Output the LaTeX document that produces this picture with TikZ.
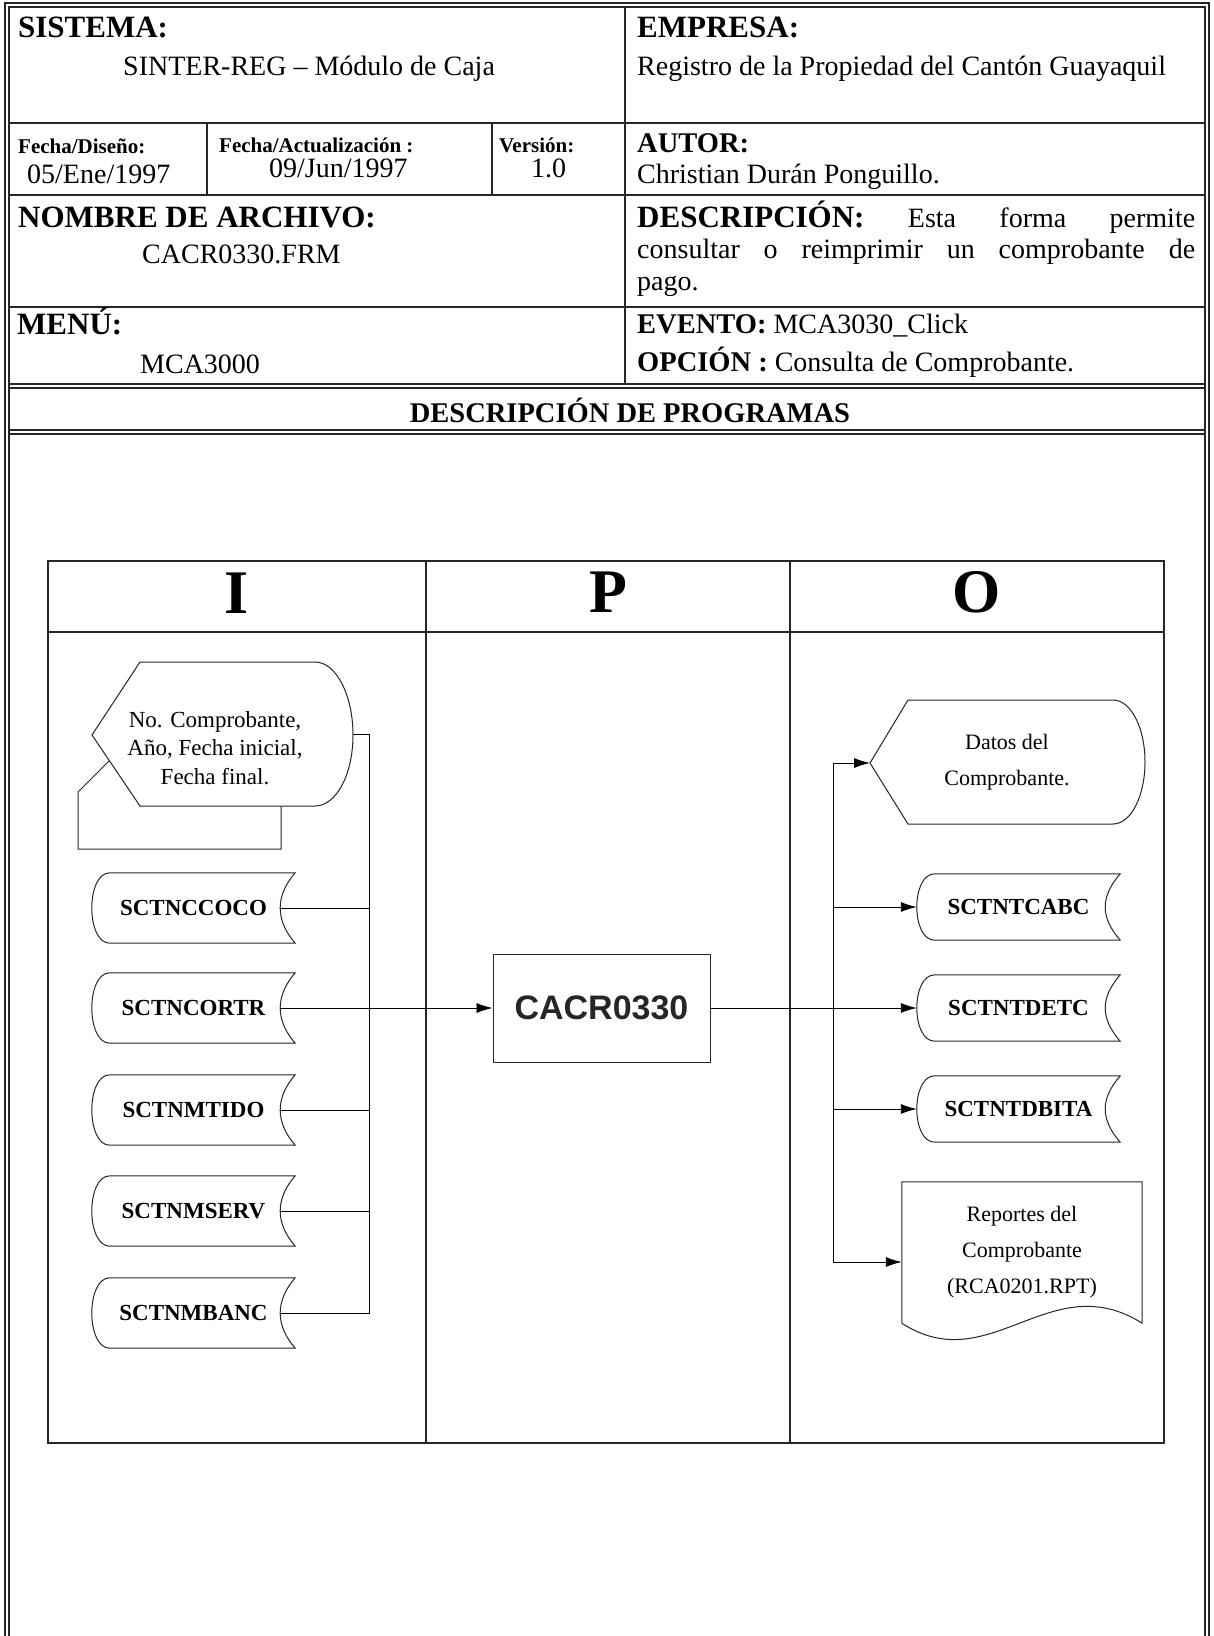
\documentclass[tikz,border=0pt]{standalone}
\usepackage{fontspec}
\setmainfont{Liberation Serif}
\newfontfamily\arialfont{Liberation Sans}
\usetikzlibrary{arrows.meta,calc}
\newcommand\szHead{\fontsize{31}{36}\selectfont}
\newcommand\szLbl{\fontsize{28.5}{34}\selectfont}
\newcommand\szBody{\fontsize{28}{33}\selectfont}
\newcommand\szSmall{\fontsize{21}{25}\selectfont}
\newcommand\szIn{\fontsize{23}{28.5}\selectfont}
\newcommand\szDB{\fontsize{23}{27}\selectfont}
\newcommand\szOut{\fontsize{22}{36}\selectfont}
\newcommand\szIPO{\fontsize{62}{70}\selectfont}
\newcommand\szCacr{\fontsize{34}{40}\selectfont}
\newcommand\dbshape[1]{%
  \draw[shp] ($(#1.north west)+(18,0)$) -- (#1.north east)
    .. controls ($(#1.north east)+(-20,23)$) and ($(#1.south east)+(-20,-23)$) .. (#1.south east)
    -- ($(#1.south west)+(18,0)$)
    .. controls ($(#1.south west)+(-6,0)$) and ($(#1.north west)+(-6,0)$) .. ($(#1.north west)+(18,0)$) -- cycle;}
\begin{document}
\begin{tikzpicture}[x=1pt,y=-1pt,
  frame/.style={line width=1.2pt,black!85},
  ipo/.style={line width=1.1pt,black!85},
  shp/.style={line width=1pt,black!85},
  conn/.style={line width=0.9pt,black},
  arr/.style={conn,-{Latex[length=16pt,width=10pt]}},
  hdr/.style={inner sep=0pt,anchor=base west},
  dbin/.style={minimum width=203pt,minimum height=70pt,inner sep=0pt,font=\szDB\bfseries},
  dbout/.style={minimum width=203pt,minimum height=66pt,inner sep=0pt,font=\szDB\bfseries}]
\useasboundingbox (0,0) rectangle (1213,1636);
\fill[white] (0,0) rectangle (1213,1636);

% ---------- outer double frame ----------
\draw[frame] (5,1636) -- (5,3) -- (1209,3) -- (1209,1636);
\draw[frame] (9,1636) -- (9,7) -- (1205,7) -- (1205,1636);
% header rows
\draw[frame] (9,123) -- (1205,123);
\draw[frame] (9,195) -- (1205,195);
\draw[frame] (9,307) -- (1205,307);
\draw[frame] (9,384) -- (1205,384);
\draw[frame] (9,388) -- (1205,388);
\draw[frame] (9,430) -- (1205,430);
\draw[frame] (9,434) -- (1205,434);
\draw[frame] (625,7) -- (625,384);
\draw[frame] (207,123) -- (207,195);
\draw[frame] (492,123) -- (492,195);

% ---------- header texts ----------
\node[hdr,font=\szHead\bfseries] (sist) at (18,37) {SISTEMA:};
\node[hdr,font=\szBody] (sistv) at (123,75) {SINTER-REG – Módulo de Caja};
\node[hdr,font=\szHead\bfseries] (emp) at (637,37) {EMPRESA:};
\node[hdr,font=\szBody] (empv) at (637,75) {Registro de la Propiedad del Cantón Guayaquil};
\node[hdr,font=\szSmall\bfseries] (fd) at (18,153) {Fecha/Diseño:};
\node[hdr,font=\szBody] (fdv) at (27,183) {05/Ene/1997};
\node[hdr,font=\szSmall\bfseries] (fa) at (219,152) {Fecha/Actualización :};
\node[hdr,font=\szBody] (fav) at (269,177) {09/Jun/1997};
\node[hdr,font=\szSmall\bfseries] (ver) at (499,152) {Versión:};
\node[hdr,font=\szBody] (verv) at (531,177) {1.0};
\node[hdr,font=\szLbl\bfseries] (aut) at (637,152) {AUTOR:};
\node[hdr,font=\szBody] (autv) at (637,183) {Christian Durán Ponguillo.};
\node[hdr,font=\szHead\bfseries] (nom) at (18,227) {NOMBRE DE ARCHIVO:};
\node[hdr,font=\szBody] (nomv) at (142,263) {CACR0330.FRM};
\node[hdr] (desc1) at (637,227) {\makebox[558pt][s]{{\szHead\bfseries DESCRIPCIÓN:}\szBody\ Esta forma permite}};
\node[hdr] (desc2) at (637,258) {\makebox[558pt][s]{\szBody consultar o reimprimir un comprobante de}};
\node[hdr,font=\szBody] (desc3) at (637,290) {pago.};
\node[hdr,font=\szHead\bfseries] (menu) at (17,334) {MENÚ:};
\node[hdr,font=\szBody] (menuv) at (140,373) {MCA3000};
\node[hdr] (evt) at (637,333) {{\szLbl\bfseries EVENTO:}\szBody\ MCA3030\_Click};
\node[hdr] (opc) at (637,371) {{\szLbl\bfseries OPCIÓN :}\szBody\ Consulta de Comprobante.};
\node[inner sep=0pt,anchor=base,font=\szLbl\bfseries] (descp) at (630,422) {DESCRIPCIÓN DE PROGRAMAS};

% ---------- IPO table ----------
\draw[ipo] (48,561) rectangle (1164,1443);
\draw[ipo] (48,632) -- (1164,632);
\draw[ipo] (426,561) -- (426,1443);
\draw[ipo] (790,561) -- (790,1443);
\node[inner sep=0pt,anchor=base,font=\szIPO\bfseries] (colI) at (237,613) {I};
\node[inner sep=0pt,anchor=base,font=\szIPO\bfseries] (colP) at (608,612) {P};
\node[inner sep=0pt,anchor=base,font=\szIPO\bfseries] (colO) at (977,612) {O};

% ---------- input display (with card behind) ----------
\draw[shp,fill=white] (78,849) -- (78,792) -- (150,720) -- (281,720) -- (281,849) -- cycle;
\draw[shp,fill=white] (92,735) -- (140,662) -- (315,662)
  .. controls (336,662) and (353,695) .. (353,735)
  .. controls (353,775) and (336,806) .. (315,806) -- (140,806) -- cycle;
\node[font=\szIn,align=center,inner sep=0pt] (inp) at (215,748) {No. Comprobante,\\Año, Fecha inicial,\\Fecha final.};
\coordinate (inpR) at (353,734);

% ---------- input stored data ----------
\node[dbin] (ccoco) at (193.5,908) {SCTNCCOCO};
\node[dbin] (cortr) at (193.5,1008) {SCTNCORTR};
\node[dbin] (mtido) at (193.5,1110) {SCTNMTIDO};
\node[dbin] (mserv) at (193.5,1211) {SCTNMSERV};
\node[dbin] (mbanc) at (193.5,1313) {SCTNMBANC};
\dbshape{ccoco}\dbshape{cortr}\dbshape{mtido}\dbshape{mserv}\dbshape{mbanc}
\coordinate (ccocoR) at ($(ccoco.east)+(-15,0)$);
\coordinate (cortrR) at ($(cortr.east)+(-15,0)$);
\coordinate (mtidoR) at ($(mtido.east)+(-15,0)$);
\coordinate (mservR) at ($(mserv.east)+(-15,0)$);
\coordinate (mbancR) at ($(mbanc.east)+(-15,0)$);
\coordinate (ibus) at (369,734);

% ---------- process ----------
\node[draw,shp,minimum width=217pt,minimum height=108pt,inner sep=0pt,font=\arialfont\bfseries\szCacr] (cacr) at (601.5,1008) {CACR0330};

% ---------- outputs ----------
\draw[shp,fill=white] (870,763) -- (908,700) -- (1113,700)
  .. controls (1131,700) and (1145,728) .. (1145,762)
  .. controls (1145,796) and (1131,824) .. (1113,824) -- (908,824) -- cycle;
\node[font=\szOut,align=center,inner sep=0pt] (dat) at (1007,762) {Datos del\\Comprobante.};
\coordinate (datL) at (870,763);

\node[dbout] (cabc) at (1018.5,907) {SCTNTCABC};
\node[dbout] (detc) at (1018.5,1008) {SCTNTDETC};
\node[dbout] (dbita) at (1018.5,1109) {SCTNTDBITA};
\dbshape{cabc}\dbshape{detc}\dbshape{dbita}

\node[minimum width=240pt,minimum height=141pt,inner sep=0pt,font=\szOut,align=center] (rep) at (1022,1252.5) {Reportes del\\Comprobante\\(RCA0201.RPT)};
\draw[shp] (rep.south west) -- (rep.north west) -- (rep.north east) -- (rep.south east)
  .. controls ($(rep.south east)+(-92,-58)$) and ($(rep.south west)+(88,57)$) .. (rep.south west);
\coordinate (obus) at (833,763);
\coordinate (obusB) at (833,1262);

% ---------- connectors ----------
\draw[conn] (inpR) -- (ibus) |- (mbancR);
\draw[conn] (ccocoR) -- (ccocoR -| ibus);
\draw[conn] (mtidoR) -- (mtidoR -| ibus);
\draw[conn] (mservR) -- (mservR -| ibus);
\draw[arr] (cortrR) -- (cacr.west);

\draw[arr] (cacr.east) -- (detc.west);
\draw[conn] (obus) -- (obusB);
\draw[arr] (obus) -- (datL);
\draw[arr] (cabc.west -| obus) -- (cabc.west);
\draw[arr] (dbita.west -| obus) -- (dbita.west);
\draw[arr] (obusB) -- (obusB -| rep.west);
\end{tikzpicture}
\end{document}
